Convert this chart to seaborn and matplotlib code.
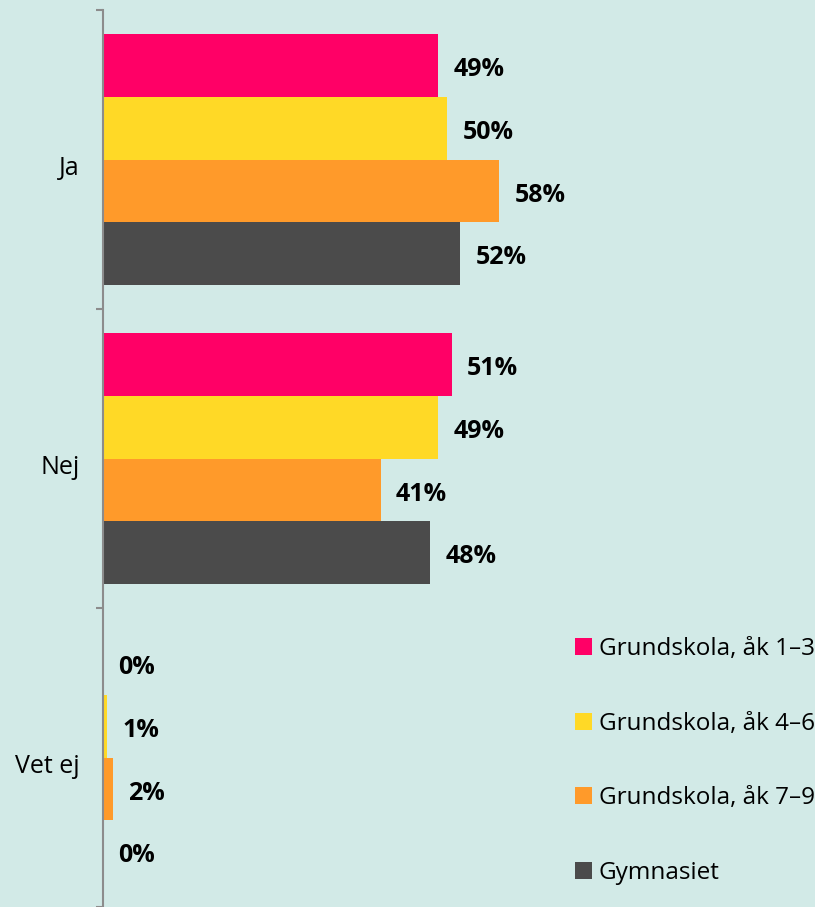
import pandas as pd
import matplotlib.pyplot as plt
import matplotlib.transforms as mtransforms
import seaborn as sns

# Data
svar = ["Ja", "Nej", "Vet ej"]
grupper = ["Grundskola, åk 1–3", "Grundskola, åk 4–6", "Grundskola, åk 7–9", "Gymnasiet"]
ak1_3 = [49.0, 51.0, 0.0]
ak4_6 = [50.3, 49.0, 0.6]
ak7_9 = [57.9, 40.6, 1.5]
gymnasiet = [52.2, 47.8, 0.0]
farger = ["#FF0066", "#FFD926", "#FF9A2A", "#4B4B4B"]
bg = "#D2EAE7"

rows = []
for grupp, values in zip(grupper, [ak1_3, ak4_6, ak7_9, gymnasiet]):
    for s, v in zip(svar, values):
        rows.append({"svar": s, "andel": v, "grupp": grupp})
df = pd.DataFrame(rows)

sns.set_style("white")
plt.rcParams['font.family'] = ['Open Sans', 'DejaVu Sans']

fig = plt.figure(figsize=(8.15, 9.07), dpi=100, facecolor=bg)
ax = fig.add_axes([103 / 815, 0.0, 684 / 815, 897 / 907])
ax.set_facecolor(bg)

sns.barplot(data=df, y="svar", x="andel", hue="grupp", order=svar, hue_order=grupper,
            orient="h", palette=farger, width=0.84, saturation=1, linewidth=0, ax=ax)

# Percent labels on each bar (nudged a little down like the original)
for container in ax.containers:
    vals = [bar.get_width() for bar in container]
    anns = ax.bar_label(container, labels=[f"{v:.0f}%" for v in vals], padding=11,
                        fontsize=18, fontweight="bold", color="black")
    for a in anns:
        a.xyann = (a.xyann[0], a.xyann[1] - 3)

ax.set_xlim(0, 100)
ax.set_ylim(2.5, -0.5)
ax.set_xlabel("")
ax.set_ylabel("")
ax.set_xticks([])
ax.set_yticks([0, 1, 2])
ax.set_yticklabels(svar, fontsize=18, color="black")
ax.set_yticks([-0.5, 0.5, 1.5, 2.5], minor=True)
ax.tick_params(axis="y", which="major", left=False, length=0, pad=17)
ax.tick_params(axis="y", which="minor", left=True, length=5, width=1.5,
               color="#8C8C8C", direction="out")
shift = mtransforms.ScaledTranslation(0, -4 / 72, fig.dpi_scale_trans)
for lab in ax.get_yticklabels():
    lab.set_transform(lab.get_transform() + shift)
for side in ["top", "right", "bottom"]:
    ax.spines[side].set_visible(False)
ax.spines["left"].set_color("#8C8C8C")
ax.spines["left"].set_linewidth(1.5)

handles, labels = ax.get_legend_handles_labels()
leg = ax.legend(handles, labels, loc="lower right", bbox_to_anchor=(815 / 815, 22 / 907),
                bbox_transform=fig.transFigure, frameon=False, fontsize=17.5,
                handlelength=0.7, handleheight=0.7, handletextpad=0.3, labelspacing=2.08,
                borderpad=0, borderaxespad=0)
for t in leg.get_texts():
    t.set_color("black")

plt.savefig("out.png", dpi=100, facecolor=bg)
